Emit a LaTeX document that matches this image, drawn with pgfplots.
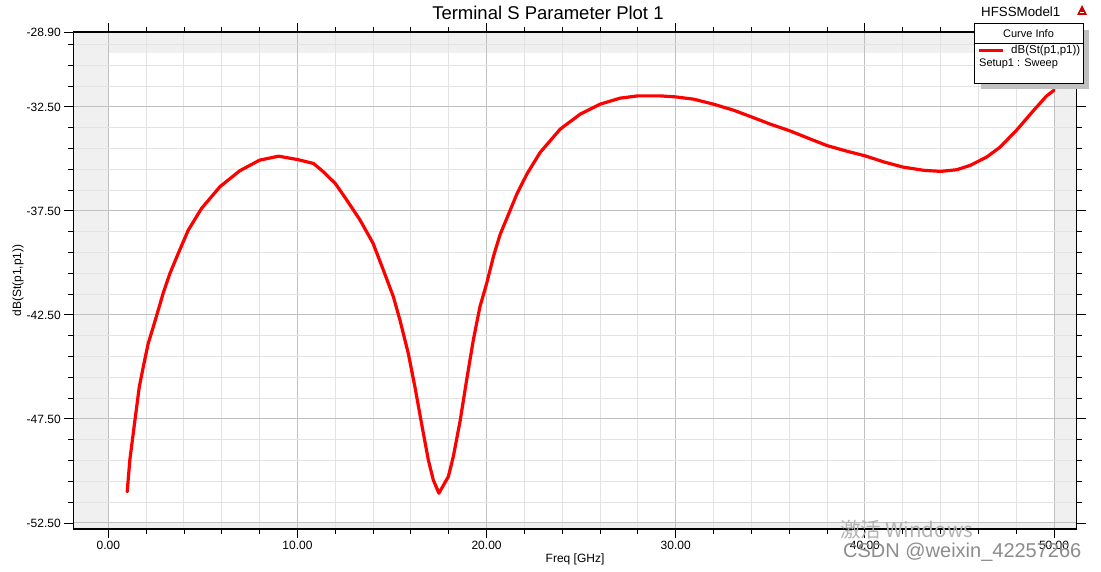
\documentclass[border=0pt]{standalone}
\usepackage{fontspec}
\setmainfont{Liberation Sans}
\newfontfamily\cjk{Noto Sans CJK SC}
\usepackage{pgfplots}
\pgfplotsset{compat=1.18}
\definecolor{bandgray}{RGB}{240,240,240}
\definecolor{majgrid}{RGB}{192,192,192}
\definecolor{mingrid}{RGB}{227,227,227}
\definecolor{shadowgray}{RGB}{192,192,192}
\pgfplotsset{
  hfss/.style={
    at={(73.3pt,42pt)}, anchor=south west,
    scale only axis, width=1003.4pt, height=497pt,
    xmin=-1.85, xmax=51.2, ymin=-52.79, ymax=-28.9,
  }
}
\begin{document}
\begin{tikzpicture}
\path[use as bounding box] (0pt,0pt) rectangle (1101pt,571pt);
% background bands
\begin{axis}[hfss, hide axis]
\fill[bandgray] (axis cs:-1.85,-52.79) rectangle (axis cs:51.2,-28.9);
\fill[white] (axis cs:0,-52.5) rectangle (axis cs:50,-29.92);
\end{axis}
\begin{axis}[
  hfss,
  xtick={0,10,20,30,40,50},
  minor xtick={2,4,6,8,12,14,16,18,22,24,26,28,32,34,36,38,42,44,46,48},
  ytick={-52.5,-47.5,-42.5,-37.5,-32.5,-28.9},
  minor ytick={-51.5,-50.5,-49.5,-48.5,-46.5,-45.5,-44.5,-43.5,-41.5,-40.5,-39.5,-38.5,-36.5,-35.5,-34.5,-33.5,-31.5,-30.5,-29.5},
  tick align=outside,
  major tick length=9pt, minor tick length=5pt,
  every tick/.style={black, line width=0.9pt},
  grid=both,
  major grid style={majgrid, line width=1pt},
  minor grid style={mingrid, line width=1pt},
  axis line style={black, line width=1.3pt},
  xticklabel style={font=\fontsize{12}{14}\selectfont, /pgf/number format/fixed, /pgf/number format/fixed zerofill, /pgf/number format/precision=2, /pgf/number format/assume math mode=true},
  yticklabel style={font=\fontsize{12}{14}\selectfont, /pgf/number format/fixed, /pgf/number format/fixed zerofill, /pgf/number format/precision=2, /pgf/number format/assume math mode=true},
  xlabel={Freq [GHz]},
  ylabel={dB(St(p1,p1))},
  xlabel style={font=\fontsize{12}{14}\selectfont, at={(axis description cs:0.5,-0.0604)}, anchor=center},
  ylabel style={font=\fontsize{12}{14}\selectfont, at={(axis description cs:-0.0551,0.5)}, anchor=center},
  title={Terminal S Parameter Plot 1},
  title style={font=\fontsize{18.5}{22}\selectfont, at={(axis description cs:0.473,1.026)}, anchor=center},
]
\addplot[red, line width=3.2pt, line join=round, line cap=round] coordinates {
(1.0,-51.0) (1.14,-49.47) (1.41,-47.55) (1.64,-45.95) (1.85,-44.99)
(2.11,-43.87) (2.38,-43.07) (2.64,-42.27) (2.9,-41.46) (3.26,-40.5)
(3.7,-39.54) (4.23,-38.42) (4.93,-37.38) (5.9,-36.34) (6.95,-35.57)
(8.0,-35.06) (9.0,-34.87) (10.0,-35.03) (10.85,-35.22) (11.37,-35.62)
(12.0,-36.18) (12.61,-36.98) (13.31,-37.94) (14.0,-39.06) (14.54,-40.34)
(15.07,-41.62) (15.42,-42.75) (15.86,-44.35) (16.21,-45.95) (16.56,-47.71)
(16.92,-49.47) (17.18,-50.43) (17.48,-51.07) (17.98,-50.27) (18.24,-49.31)
(18.6,-47.6) (18.95,-45.6) (19.3,-43.7) (19.65,-42.1) (20.0,-41.0)
(20.37,-39.66) (20.72,-38.62) (21.16,-37.66) (21.6,-36.69) (22.13,-35.73)
(22.83,-34.69) (23.89,-33.57) (24.95,-32.85) (26.0,-32.37) (27.06,-32.08)
(28.0,-31.97) (29.17,-31.97) (30.0,-32.02) (30.95,-32.13) (32.0,-32.37)
(33.06,-32.66) (34.0,-32.98) (35.0,-33.33) (36.0,-33.64) (37.1,-34.04)
(38.0,-34.36) (39.05,-34.63) (40.0,-34.85) (41.02,-35.15) (42.0,-35.39)
(43.12,-35.55) (44.0,-35.6) (44.86,-35.52) (45.57,-35.31) (46.44,-34.91)
(47.14,-34.44) (48.0,-33.64) (48.9,-32.69) (49.6,-31.98) (50.0,-31.7)
};
\end{axis}
% legend box with shadow
\fill[shadowgray] (981pt,482pt) rectangle (1089pt,541pt);
\filldraw[fill=white, draw=black, line width=1pt] (974pt,487pt) rectangle (1083pt,547pt);
\draw[black, line width=0.8pt] (974pt,528pt) -- (1083pt,528pt);
\node[font=\fontsize{11}{13}\selectfont, anchor=center] at (1028.5pt,537.5pt) {Curve Info};
\draw[red, line width=3pt] (979pt,520pt) -- (1003pt,520pt);
\node[font=\fontsize{11.5}{13}\selectfont, anchor=west, inner sep=0pt] at (1011pt,520pt) {dB(St(p1,p1))};
\node[font=\fontsize{11}{13}\selectfont, anchor=west, inner sep=0pt] at (979pt,507pt) {Setup1 : Sweep};
\node[font=\fontsize{13.3}{15}\selectfont, anchor=west, inner sep=0pt] at (981pt,559pt) {HFSSModel1};
\fill[red!80!black] (1077pt,556pt) -- (1087pt,556pt) -- (1082pt,566pt) -- cycle;
\fill[white] (1080pt,558pt) rectangle (1084pt,559pt);
% watermark
\node[font=\cjk\fontsize{20.5}{22}\selectfont, text=black!30, anchor=west, inner sep=0pt] at (840pt,41pt) {激活 Windows};
\node[font=\fontsize{20}{22}\selectfont, text=black!45, anchor=west, inner sep=0pt] at (843pt,19pt) {CSDN @weixin\_42257266};
\end{tikzpicture}
\end{document}
